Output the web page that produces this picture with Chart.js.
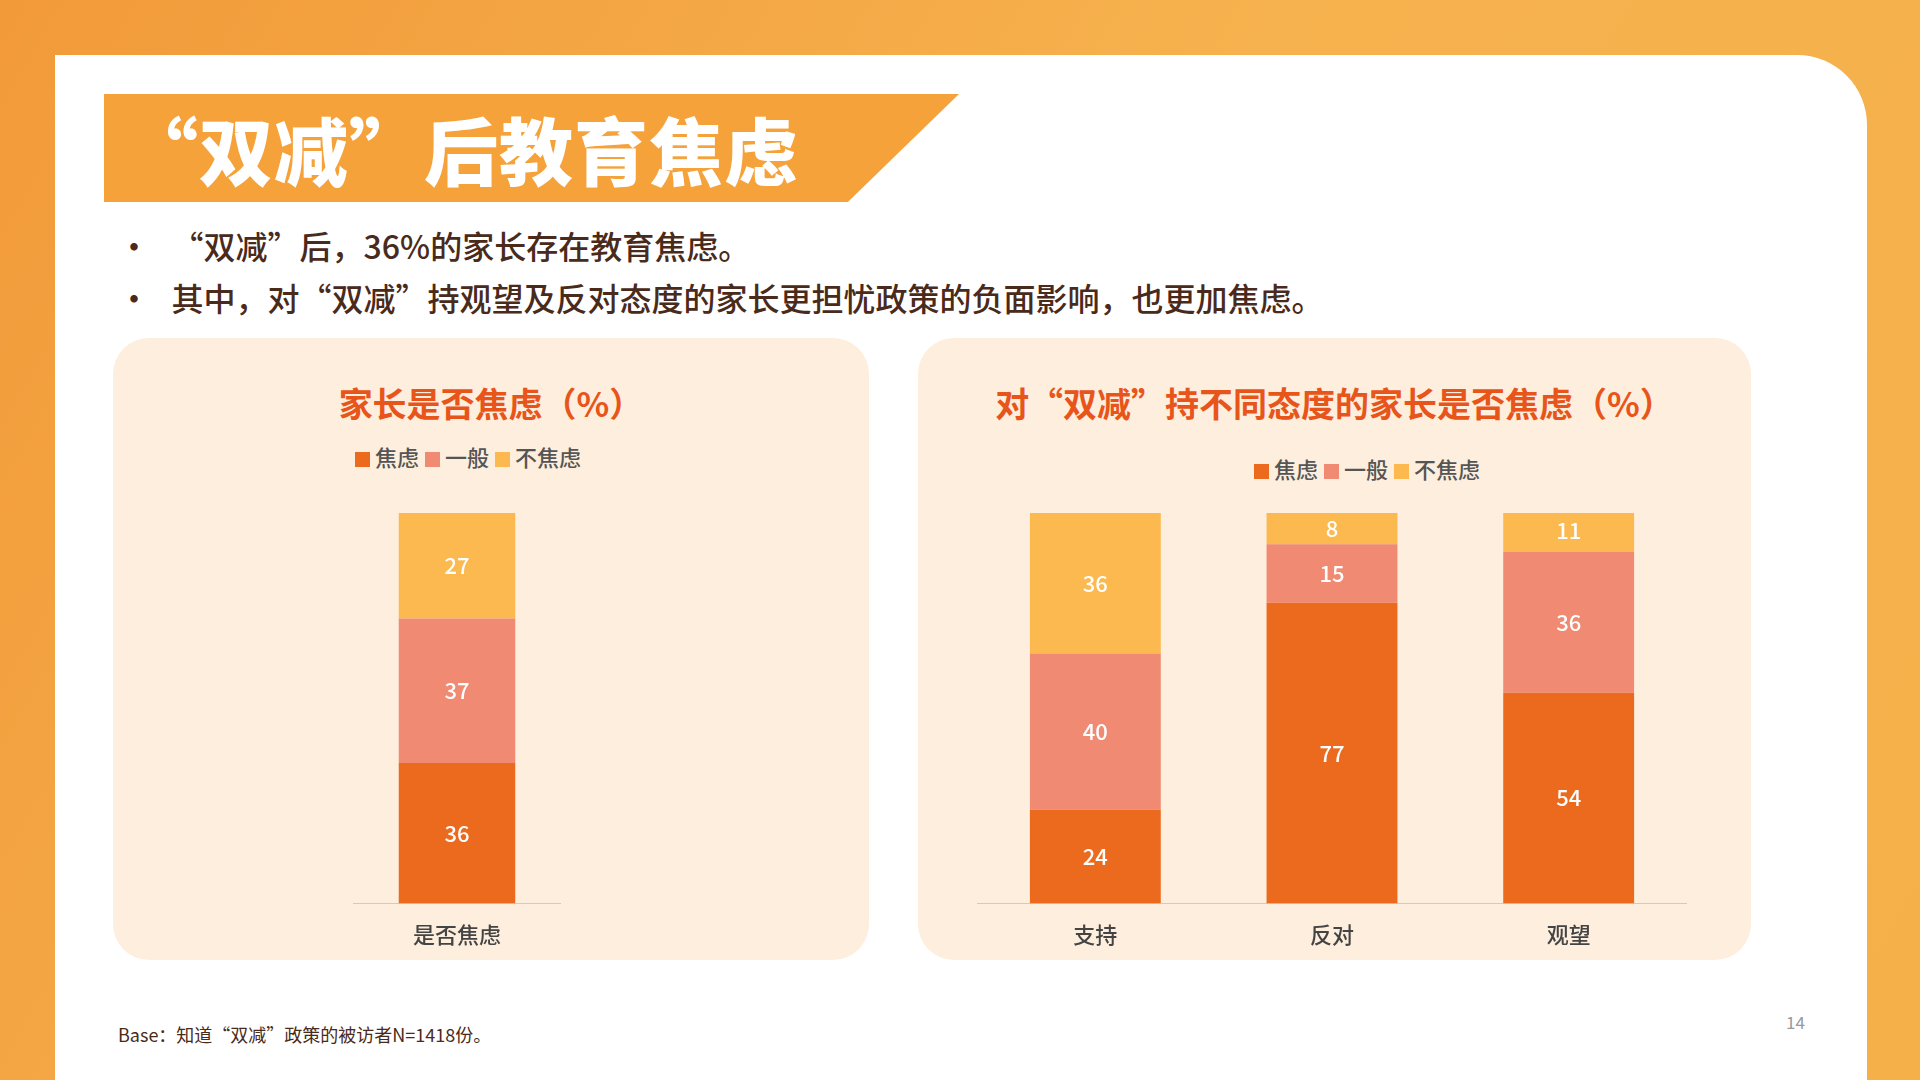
<!DOCTYPE html>
<html><head><meta charset="utf-8">
<script src="https://cdn.jsdelivr.net/npm/chart.js@4"></script>
<style>
body{margin:0;width:1920px;height:1080px;overflow:hidden;font-family:"Noto Sans CJK SC","Noto Sans",sans-serif;
background:linear-gradient(120deg,#f29a3a 0%,#f6b24e 50%,#f5b04a 100%);position:relative}
#card{position:absolute;left:55px;top:55px;width:1812px;height:1040px;background:#fff;border-top-right-radius:70px}
#banner{position:absolute;left:104px;top:94px;width:855px;height:108px;background:#f5a23a;clip-path:polygon(0 0,100% 0,87% 100%,0 100%)}
#title{position:absolute;left:124px;top:94px;font-size:74px;font-weight:900;color:#fff;letter-spacing:1px}
.bul{position:absolute;left:118px;font-size:32px;font-weight:500;color:#4a2a1a}
.panel{position:absolute;top:338px;height:622px;background:#fdeedd;border-radius:36px}
.ct{position:absolute;font-size:34px;font-weight:bold;color:#e8551a;text-align:center}
.lg{position:absolute;width:600px;text-align:center;font-size:22px;font-weight:500;color:#555}
.lg i{display:inline-block;width:15px;height:15px;margin:0 5px 0 6px;vertical-align:-1px}
canvas{position:absolute}
#foot{position:absolute;left:118px;top:1021px;font-size:18px;color:#4a2a1a}
#pg{position:absolute;left:1786px;top:1009px;font-size:17px;color:#999}
</style></head><body>
<div id="card"></div>
<div id="banner"></div>
<div id="title">“双减”后教育焦虑</div>
<div class="bul" style="top:222px">•&nbsp;&nbsp;&nbsp;“双减”后，36%的家长存在教育焦虑。</div>
<div class="bul" style="top:274px">•&nbsp;&nbsp;&nbsp;其中，对“双减”持观望及反对态度的家长更担忧政策的负面影响，也更加焦虑。</div>
<div class="panel" style="left:113px;width:756px"></div>
<div class="panel" style="left:918px;width:833px"></div>
<div class="ct" style="left:113px;width:756px;top:378px">家长是否焦虑（%）</div>
<div class="ct" style="left:918px;width:833px;top:378px">对“双减”持不同态度的家长是否焦虑（%）</div>
<div class="lg" id="lg1" style="left:165px;top:440px"></div>
<div class="lg" id="lg2" style="left:1064px;top:452px"></div>
<div style="position:absolute;left:353px;top:513px;width:208px;height:445px"><canvas id="c1"></canvas></div>
<div style="position:absolute;left:977px;top:513px;width:710px;height:445px"><canvas id="c2"></canvas></div>
<div id="foot">Base：知道“双减”政策的被访者N=1418份。</div>
<div id="pg">14</div>
<script>
const seriesNames = ['焦虑', '一般', '不焦虑'];
const colors = ['#ec6a1e', '#f08a72', '#fbb94f'];
const cats1 = ['是否焦虑'];
const anxious1 = [36], normal1 = [37], calm1 = [27];
const cats2 = ['支持', '反对', '观望'];
const anxious2 = [24, 77, 54], normal2 = [40, 15, 36], calm2 = [36, 8, 11];

['lg1', 'lg2'].forEach(id => {
  document.getElementById(id).innerHTML = seriesNames.map((s, i) =>
    '<i style="background:' + colors[i] + '"></i>' + s).join('');
});

const labelPlugin = {
  id: 'vals',
  afterDatasetsDraw(chart) {
    const ctx = chart.ctx;
    ctx.save();
    ctx.fillStyle = '#fff';
    ctx.font = '500 22px "Noto Sans CJK SC"';
    ctx.textAlign = 'center';
    ctx.textBaseline = 'middle';
    chart.data.datasets.forEach((ds, i) => {
      chart.getDatasetMeta(i).data.forEach((bar, j) => {
        ctx.fillText(ds.data[j], bar.x, (bar.y + bar.base) / 2);
      });
    });
    ctx.restore();
  }
};

function makeChart(id, cats, a, n, c, barPct) {
  const vals = [a, n, c];
  return new Chart(document.getElementById(id), {
    type: 'bar',
    data: {
      labels: cats,
      datasets: seriesNames.map((s, i) => ({
        label: s, data: vals[i], backgroundColor: colors[i],
        barPercentage: barPct, categoryPercentage: 1
      }))
    },
    options: {
      responsive: true, maintainAspectRatio: false, animation: false,
      layout: { padding: 0 },
      plugins: { legend: { display: false }, tooltip: { enabled: false } },
      scales: {
        x: { stacked: true, grid: { display: false }, border: { color: '#ccc' },
             ticks: { color: '#444', font: { size: 22, weight: '500', family: 'Noto Sans CJK SC' }, padding: 10 } },
        y: { stacked: true, display: false, min: 0, max: 100 }
      }
    },
    plugins: [labelPlugin]
  });
}
makeChart('c1', cats1, anxious1, normal1, calm1, 0.56);
makeChart('c2', cats2, anxious2, normal2, calm2, 0.553);
</script>
</body></html>
